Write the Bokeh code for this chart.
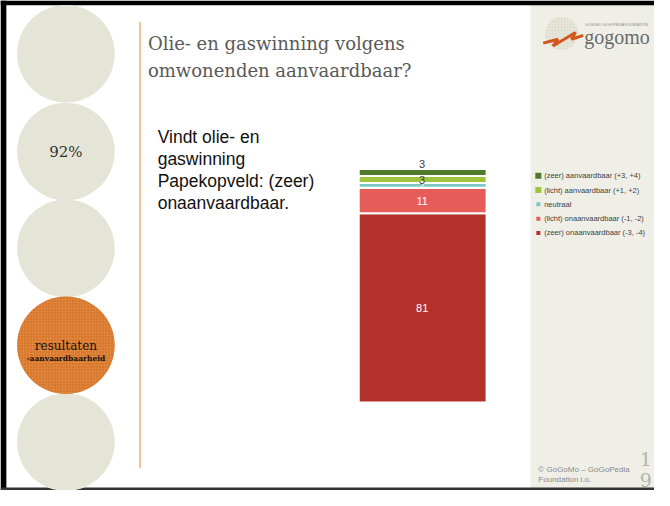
from bokeh.plotting import figure
from bokeh.models import Range1d, ColumnDataSource
from bokeh.core.properties import value
from bokeh.embed import file_html
from bokeh.resources import INLINE
import numpy as np

# ---- data ----
categories = ["(zeer) onaanvaardbaar (-3, -4)", "(licht) onaanvaardbaar (-1, -2)",
              "neutraal", "(licht) aanvaardbaar (+1, +2)", "(zeer) aanvaardbaar (+3, +4)"]
values = [81, 11, 2, 3, 3]
title_lines = ["Olie- en gaswinning volgens", "omwonenden aanvaardbaar?"]
question_lines = ["Vindt olie- en", "gaswinning", "Papekopveld: (zeer)", "onaanvaardbaar."]

# ---- styles ----
colors = ["#b2322b", "#e65c58", "#7fc8c2", "#9fc33c", "#4f7a2c"]
label_colors = ["white", "white", "white", "#404040", "#404040"]
label_offsets = [0, 0, 0, 0, -8]

W, H = 654, 490
p = figure(width=W, height=H, x_range=Range1d(0, 670), y_range=Range1d(506, 0),
           output_backend="svg", toolbar_location=None, min_border=0,
           x_axis_location=None, y_axis_location=None, outline_line_color=None)
p.grid.visible = False
p.background_fill_color = "white"

# right panel
p.quad(left=543, right=670, top=4, bottom=504, fill_color="#efefe7", line_color=None)

# slide border
p.quad(left=0, right=670, top=0, bottom=5, fill_color="black", line_color=None)
p.quad(left=0, right=6, top=0, bottom=506, fill_color="black", line_color=None)
p.quad(left=0, right=670, top=503, bottom=506, fill_color="#333333", line_color=None)

# left circles
cy = [55, 156, 256, 356, 456]
p.circle(x=[67] * 5, y=cy, radius=50, fill_color="#e5e5d7", line_color=None)
p.circle(x=[67], y=[356], radius=50, fill_color="#d9782c", line_color=None,
         hatch_pattern="+", hatch_color="#eaa868", hatch_alpha=0.35, hatch_scale=3,
         hatch_weight=0.6)
p.text(x=[67], y=[156], text=["92%"], text_font=value("DejaVu Serif"),
       text_font_size="15px", text_align="center", text_baseline="middle", text_color="#333333")
p.text(x=[67], y=[357], text=["resultaten"], text_font=value("DejaVu Serif"),
       text_font_size="12px", text_align="center", text_baseline="middle", text_color="#111111")
p.text(x=[67], y=[370], text=["-aanvaardbaarheid"], text_font=value("DejaVu Serif"),
       text_font_size="7.5px", text_font_style="bold", text_align="center",
       text_baseline="middle", text_color="#111111")

# vertical divider
p.line(x=[143, 143], y=[22, 483], line_color="#eec39a", line_width=2)

# title
p.text(x=[151] * 2, y=[44, 72], text=title_lines, text_font=value("DejaVu Serif"),
       text_font_size="18px", text_baseline="middle", text_color="#595959")

# question
p.text(x=[161] * 4, y=[141, 164, 186, 209], text=question_lines, text_font=value("Liberation Sans"),
       text_font_size="17.5px", text_baseline="middle", text_color="#111111")

# ---- stacked bar ----
bar_bottom_px, bar_top_px = 415, 174
ppu = (bar_bottom_px - bar_top_px) / 100.0
p.extra_y_ranges = {"bar": Range1d(start=(bar_bottom_px - 506) / ppu, end=bar_bottom_px / ppu)}
vals = np.array(values, dtype=float)
tops = np.cumsum(vals)
bottoms = tops - vals
src = ColumnDataSource(dict(bottom=bottoms, top=tops, mid=(bottoms + tops) / 2,
                            color=colors, lc=label_colors, off=label_offsets,
                            lab=[str(v) for v in values]))
p.quad(left=367, right=498, bottom="bottom", top="top", source=src, y_range_name="bar",
       fill_color="color", line_color="white", line_width=2)
p.text(x=432, y="mid", text="lab", source=src, y_range_name="bar", y_offset="off",
       text_color="lc", text_font=value("Liberation Sans"), text_font_size="11px",
       text_align="center", text_baseline="middle")

# ---- legend ----
leg_y = [181 + i * 14.75 for i in range(len(categories))]
p.scatter(x=[551] * 5, y=leg_y, marker="square", size=[6, 6, 4, 4, 4],
          fill_color=colors[::-1], line_color=None)
p.text(x=[557] * 5, y=leg_y, text=categories[::-1], text_font=value("Liberation Sans"),
       text_font_size="7.5px", text_baseline="middle", text_color="#404040")

# ---- logo ----
p.circle(x=[575], y=[34], radius=17, fill_color="#dedfcf", line_color=None,
         hatch_pattern=".", hatch_color="#f4f4ec", hatch_scale=3)
p.line(x=[556, 571, 566, 589, 585, 597], y=[44, 40, 47, 33, 40, 36],
       line_color="#d3571c", line_width=3)
p.text(x=[598], y=[38], text=["gogomo"], text_font=value("Liberation Serif"),
       text_font_size="20px", text_baseline="middle", text_color="#6a6a6a")
p.text(x=[599], y=[25], text=["GOGOMO GOGOPEDIA FOUNDATION"], text_font=value("Liberation Sans"),
       text_font_size="3.5px", text_baseline="middle", text_color="#888888")

# ---- footer ----
p.text(x=[551, 551], y=[484, 495], text=["\u00a9 GoGoMo \u2013 GoGoPedia", "Foundation i.o."],
       text_font=value("Liberation Sans"), text_font_size="8px", text_baseline="middle",
       text_color="#8a8a8a")
p.text(x=[661, 661], y=[473, 495], text=["1", "9"], text_font=value("DejaVu Serif"),
       text_font_size="19px", text_align="center", text_baseline="middle", text_color="#b5b5aa")

open("out.html", "w").write(file_html(p, INLINE))
